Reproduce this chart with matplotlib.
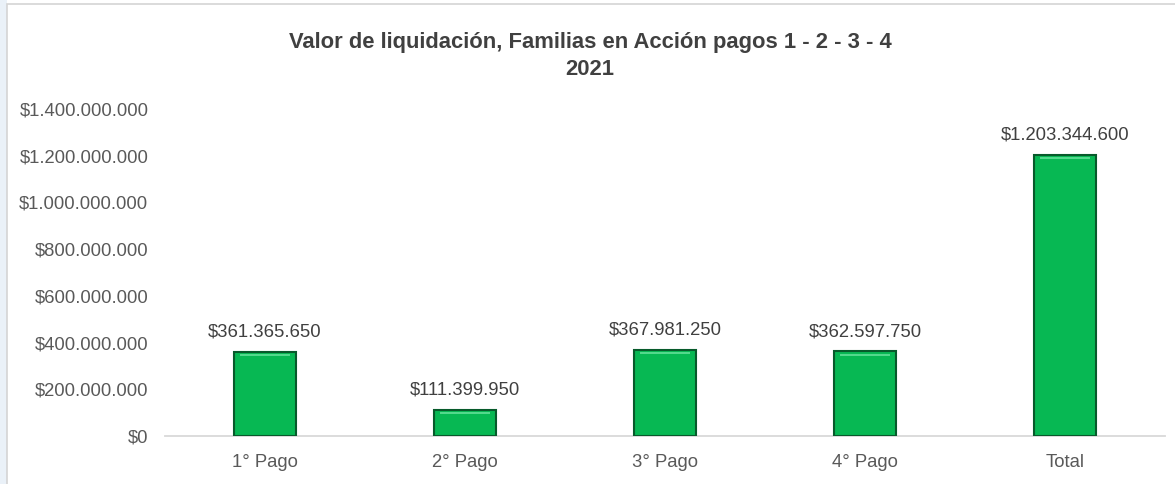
import matplotlib
matplotlib.use('Agg')
import matplotlib.pyplot as plt
from matplotlib.patches import Rectangle

# data
categories = ['1° Pago', '2° Pago', '3° Pago', '4° Pago', 'Total']
values = [361365650, 111399950, 367981250, 362597750, 1203344600]
yticks = [0, 200000000, 400000000, 600000000, 800000000, 1000000000, 1200000000, 1400000000]
title = 'Valor de liquidación, Familias en Acción pagos 1 - 2 - 3 - 4\n2021'

def money(v):
    return '$' + f'{v:,}'.replace(',', '.')

plt.rcParams['font.family'] = ['Liberation Sans Narrow', 'Liberation Sans', 'DejaVu Sans']

fig = plt.figure(figsize=(11.75, 4.84), dpi=100)
fig.patch.set_facecolor('white')

# light blue strip at left edge and chart frame
fig.patches.append(Rectangle((0, 0), 7/1175, 1, transform=fig.transFigure,
                             facecolor='#eaf1f8', edgecolor='none', zorder=-2))
fig.patches.append(Rectangle((7/1175, -0.1), 1.2, 1 - 4/484 + 0.1, transform=fig.transFigure,
                             facecolor='white', edgecolor='#d4d4d4', lw=1.2, zorder=-1))

ax = fig.add_axes([165/1175, 1 - 436/484, 1000/1175, (436 - 109)/484])
ax.set_facecolor('none')
ax.set_zorder(1)

x = range(len(categories))
bars = ax.bar(x, values, width=0.31, color='#07b853', edgecolor='#075a2b', linewidth=1.5, zorder=3)

# bevel highlight on top of each bar
for b in bars:
    h = b.get_height()
    ax.bar(b.get_x() + b.get_width() / 2, 8e6, width=b.get_width() * 0.8,
           bottom=h - 18e6, color='#52d98c', edgecolor='none', zorder=4)

for i, v in enumerate(values):
    ax.annotate(money(v), (i, v), xytext=(0, 8), textcoords='offset points',
                ha='center', va='bottom', fontsize=13.3, color='#404040')

ax.set_xlim(-0.5, 4.5)
ax.set_ylim(0, 1400000000)
ax.set_yticks(yticks)
ax.set_yticklabels([money(t) for t in yticks])
ax.set_xticks(list(x))
ax.set_xticklabels(categories)
ax.tick_params(axis='y', length=0, pad=12, labelsize=13.3, labelcolor='#595959')
ax.tick_params(axis='x', length=0, pad=13, labelsize=13.3, labelcolor='#595959')

for s in ['top', 'right', 'left']:
    ax.spines[s].set_visible(False)
ax.spines['bottom'].set_color('#d9d9d9')
ax.spines['bottom'].set_linewidth(1.3)

fig.text(590/1175, 1 - 56/484, title, ha='center', va='center', fontsize=15.8,
         fontweight='bold', color='#404040', linespacing=1.35)

fig.savefig('out.png', dpi=100)
